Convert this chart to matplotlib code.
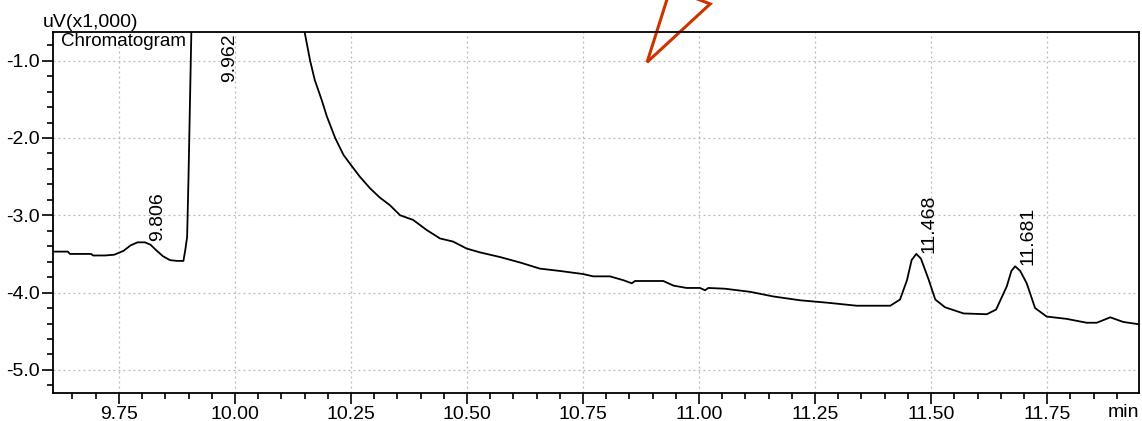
import numpy as np
import matplotlib.pyplot as plt
from matplotlib.ticker import MultipleLocator, FormatStrFormatter

plt.rcParams['font.family'] = ['Liberation Sans', 'DejaVu Sans']

# Retention time (min) and detector signal (uV x1,000)
rt = [9.607, 9.640, 9.6445, 9.690, 9.6945, 9.720, 9.740, 9.760, 9.775, 9.790,
      9.806, 9.818, 9.830, 9.845, 9.860, 9.875, 9.889, 9.893, 9.897, 9.900,
      9.9065, 9.962, 10.146, 10.162, 10.172, 10.187, 10.198, 10.216, 10.234,
      10.250, 10.269, 10.291, 10.312, 10.334, 10.356, 10.384, 10.413, 10.442,
      10.470, 10.499, 10.528, 10.571, 10.614, 10.657, 10.700, 10.750, 10.772,
      10.808, 10.837, 10.855, 10.862, 10.923, 10.945, 10.973, 11.002, 11.013,
      11.020, 11.056, 11.110, 11.160, 11.218, 11.275, 11.340, 11.412, 11.433,
      11.448, 11.458, 11.468, 11.478, 11.494, 11.509, 11.530, 11.570, 11.620,
      11.640, 11.663, 11.673, 11.681, 11.692, 11.706, 11.724, 11.749, 11.792,
      11.835, 11.857, 11.886, 11.914, 11.948]
signal = [-3.47, -3.47, -3.50, -3.50, -3.52, -3.52, -3.51, -3.46, -3.39, -3.35,
          -3.35, -3.38, -3.45, -3.53, -3.58, -3.59, -3.59, -3.45, -3.28, -2.50,
          -0.50, 30.0, -0.50, -1.00, -1.25, -1.51, -1.72, -2.00, -2.22,
          -2.35, -2.50, -2.65, -2.77, -2.87, -3.00, -3.06, -3.19, -3.30,
          -3.34, -3.43, -3.48, -3.54, -3.61, -3.69, -3.72, -3.76, -3.79,
          -3.79, -3.84, -3.88, -3.85, -3.85, -3.91, -3.94, -3.94, -3.97,
          -3.94, -3.95, -3.99, -4.05, -4.10, -4.13, -4.17, -4.17, -4.09,
          -3.84, -3.58, -3.50, -3.56, -3.82, -4.09, -4.19, -4.27, -4.28,
          -4.22, -3.92, -3.72, -3.66, -3.72, -3.88, -4.20, -4.31, -4.34,
          -4.39, -4.39, -4.32, -4.38, -4.41]

# Integrated peaks: retention time and apex height (on-scale ones)
peak_rt = [9.806, 11.468, 11.681]
peak_top = [-3.35, -3.50, -3.66]
peak_text = ['9.806', '11.468', '11.681']
# main peak runs off the top of the scale
big_rt = 9.962
big_text = '9.962'

fig = plt.figure(figsize=(11.42, 4.21), dpi=100)
ax = fig.add_axes([0.046, 0.0665, 0.9514, 0.8575])

ax.plot(rt, signal, color='black', lw=1.3)
ax.set_xlim(9.607, 11.948)
ax.set_ylim(-5.299, -0.629)

for x, y, s in zip(peak_rt, peak_top, peak_text):
    ax.annotate(s, (x, y), xytext=(9, 1), textcoords='offset points',
                rotation=90, ha='center', va='bottom', fontsize=14)
ax.annotate(big_text, (big_rt, -0.629), xytext=(9, -1), textcoords='offset points',
            rotation=90, ha='center', va='top', fontsize=14)

ax.xaxis.set_major_locator(MultipleLocator(0.25))
ax.xaxis.set_minor_locator(MultipleLocator(0.05))
ax.yaxis.set_major_locator(MultipleLocator(1.0))
ax.yaxis.set_minor_locator(MultipleLocator(0.2))
ax.xaxis.set_major_formatter(FormatStrFormatter('%.2f'))
ax.yaxis.set_major_formatter(FormatStrFormatter('%.1f'))
ax.tick_params(which='major', length=8, width=1.2, labelsize=14, pad=1)
ax.tick_params(which='minor', length=4.5, width=1.2)
ax.grid(True, which='major', color='#b8b8b8', linestyle=(0, (1.5, 2.5)), lw=0.9)
for sp in ax.spines.values():
    sp.set_linewidth(1.3)

fig.text(43 / 1142, 1 - 27 / 421, 'uV(x1,000)', fontsize=14, ha='left', va='baseline')
ax.text(0.008, 0.998, 'Chromatogram', transform=ax.transAxes,
        ha='left', va='top', fontsize=13.5)
fig.text(1139 / 1142, 1 - 417 / 421, 'min', fontsize=14, ha='right', va='baseline')

# callout pointer in red
arrow_x = [10.934, 10.888, 11.024, 10.991]
arrow_y = [-0.150, -1.02, -0.266, -0.190]
ax.plot(arrow_x, arrow_y, color='#cc3300', lw=2.2, clip_on=False,
        solid_joinstyle='miter')

fig.savefig('out.png', dpi=100)
